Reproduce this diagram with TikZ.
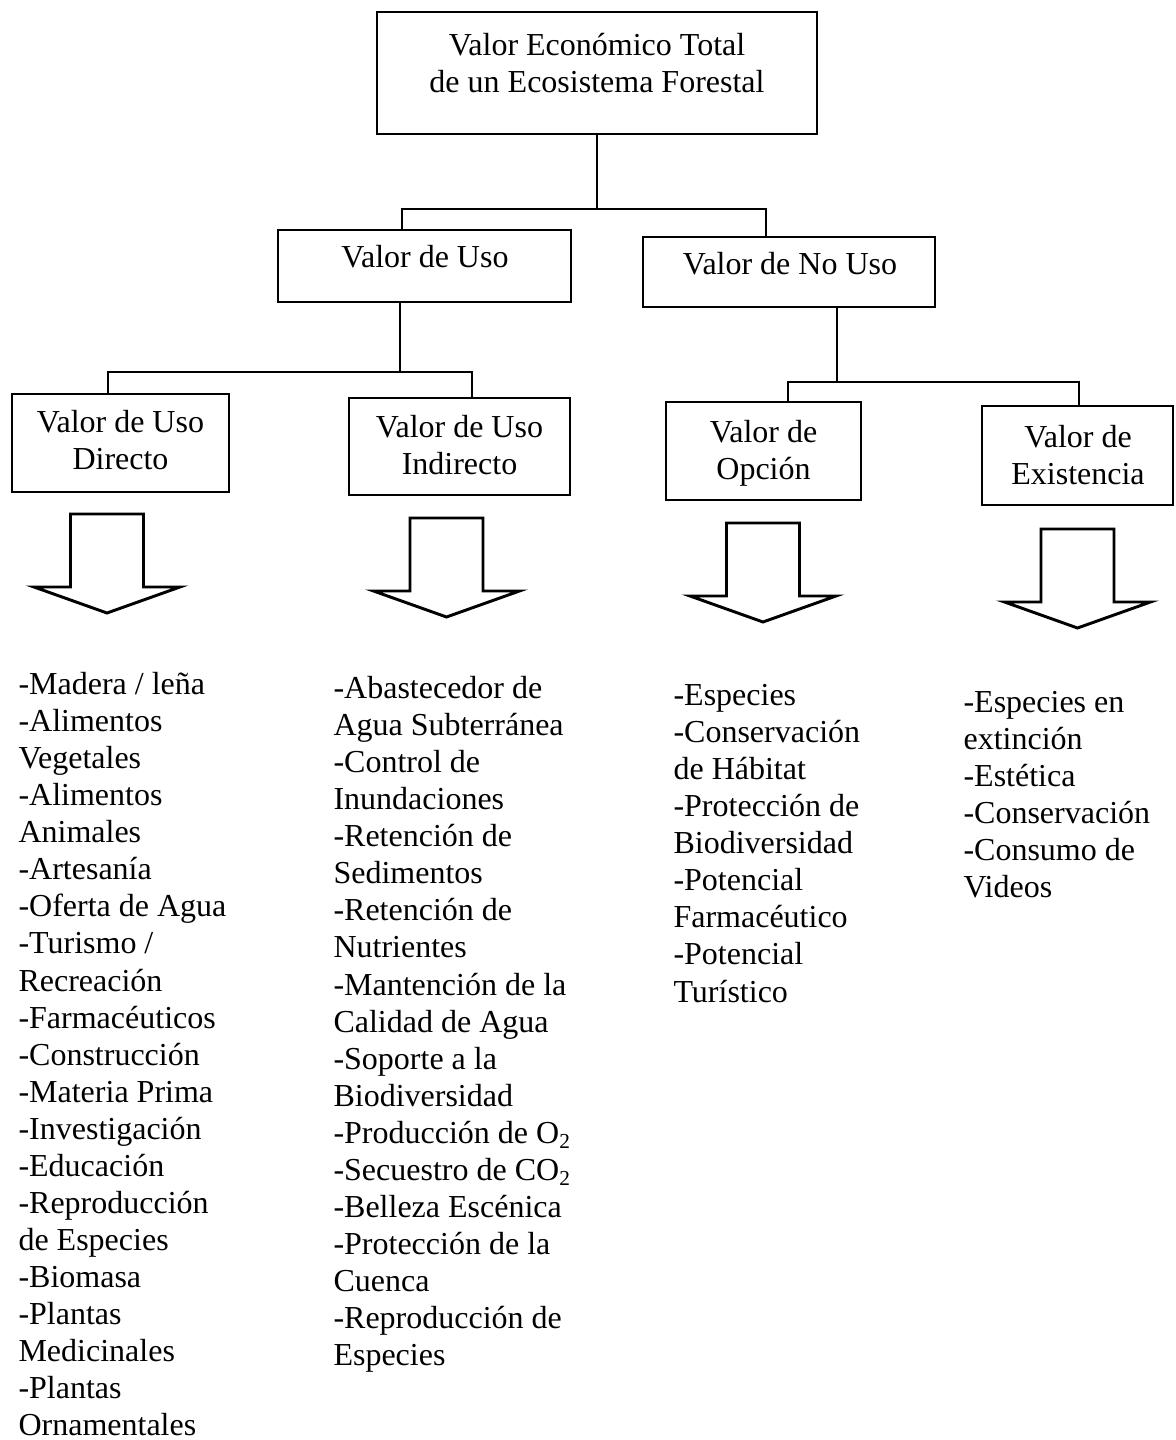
\documentclass[tikz,border=0pt]{standalone}
\usepackage{fontspec}
\setmainfont{Liberation Serif}
\usetikzlibrary{fit}
\begin{document}
\begin{tikzpicture}[x=0.375pt, y=-0.375pt,
  box/.style={draw, rectangle, line width=0.9pt, inner sep=0pt},
  link/.style={line width=0.9pt},
  boxlabel/.style={font=\fontsize{12}{13.9}\selectfont, align=center, inner sep=0pt, anchor=north},
  itemlist/.style={font=\fontsize{12}{13.9}\selectfont, align=left, inner sep=0pt, anchor=north west},
  hollowarrow/.pic={
    \draw[line width=1.1pt, line join=miter]
      (-36.5,0) -- (36.5,0) -- (36.5,73) -- (73,73) -- (0,99)
      -- (-73,73) -- (-36.5,73) -- cycle;
  }]
\useasboundingbox (0,0) rectangle (1176,1440);

% ---- boxes ----
\node[box, fit={(377,12) (817,134)}]   (top)   {};
\node[box, fit={(278,230) (571,302)}]  (uso)   {};
\node[box, fit={(643,237) (935,307)}]  (nouso) {};
\node[box, fit={(12,394) (229,492)}]   (dir)   {};
\node[box, fit={(349,398) (570,495)}]  (ind)   {};
\node[box, fit={(666,402) (861,500)}]  (opc)   {};
\node[box, fit={(982,406) (1173,505)}] (exi)   {};

% ---- box captions ----
\node[boxlabel] (top-t)   at (597,29)    {\strut Valor Económico Total\\de un Ecosistema Forestal};
\node[boxlabel] (uso-t)   at (425,241)   {\strut Valor de Uso};
\node[boxlabel] (nouso-t) at (790,248)   {\strut Valor de No Uso};
\node[boxlabel] (dir-t)   at (120.5,406) {\strut Valor de Uso\\Directo};
\node[boxlabel] (ind-t)   at (459.5,411) {\strut Valor de Uso\\Indirecto};
\node[boxlabel] (opc-t)   at (763.5,416) {\strut Valor de\\Opción};
\node[boxlabel] (exi-t)   at (1078,421)  {\strut Valor de\\Existencia};

% ---- tree connectors ----
\coordinate (t1) at (402,209);
\coordinate (t2) at (766,209);
\draw[link] (top.south) -- (top.south |- t1);
\draw[link] (t1 |- uso.north) -- (t1) -- (t2) -- (t2 |- nouso.north);

\coordinate (u0) at (400,372);
\coordinate (u1) at (108,372);
\coordinate (u2) at (472,372);
\draw[link] (u0 |- uso.south) -- (u0);
\draw[link] (u1 |- dir.north) -- (u1) -- (u2) -- (u2 |- ind.north);

\coordinate (n0) at (837,382);
\coordinate (n1) at (788,382);
\coordinate (n2) at (1079,382);
\draw[link] (n0 |- nouso.south) -- (n0);
\draw[link] (n1 |- opc.north) -- (n1) -- (n2) -- (n2 |- exi.north);

% ---- block arrows ----
\pic at (107,514)    {hollowarrow};
\pic at (446.5,518)  {hollowarrow};
\pic at (763,523)    {hollowarrow};
\pic at (1077.5,529) {hollowarrow};

% ---- item lists ----
\node[itemlist] (list-dir) at (18,668) {\strut-Madera / leña\\-Alimentos\\Vegetales\\-Alimentos\\Animales\\-Artesanía\\-Oferta de Agua\\-Turismo /\\Recreación\\-Farmacéuticos\\-Construcción\\-Materia Prima\\-Investigación\\-Educación\\-Reproducción\\de Especies\\-Biomasa\\-Plantas\\Medicinales\\-Plantas\\Ornamentales};

\node[itemlist] (list-ind) at (333,672) {\strut-Abastecedor de\\Agua Subterránea\\-Control de\\Inundaciones\\-Retención de\\Sedimentos\\-Retención de\\Nutrientes\\-Mantención de la\\Calidad de Agua\\-Soporte a la\\Biodiversidad\\-Producción de O\textsubscript{2}\\-Secuestro de CO\textsubscript{2}\\-Belleza Escénica\\-Protección de la\\Cuenca\\-Reproducción de\\Especies};

\node[itemlist] (list-opc) at (673,679) {\strut-Especies\\-Conservación\\de Hábitat\\-Protección de\\Biodiversidad\\-Potencial\\Farmacéutico\\-Potencial\\Turístico};

\node[itemlist] (list-exi) at (963,686) {\strut-Especies en\\extinción\\-Estética\\-Conservación\\-Consumo de\\Videos};
\end{tikzpicture}
\end{document}
